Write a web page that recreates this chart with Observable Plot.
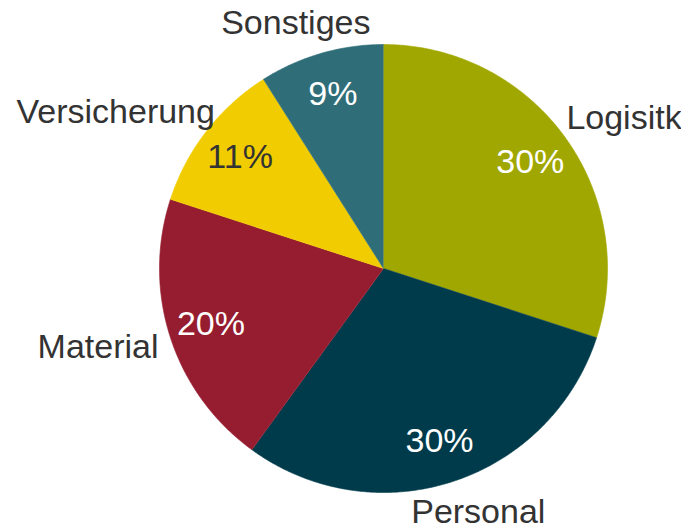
<!DOCTYPE html>
<html>
<head>
<meta charset="utf-8">
<script src="https://cdn.jsdelivr.net/npm/d3@7"></script>
<script src="https://cdn.jsdelivr.net/npm/@observablehq/plot@0.6"></script>
<style>
  html, body { margin: 0; padding: 0; background: #ffffff; }
  #chart svg { display: block; }
</style>
</head>
<body>
<div id="chart"></div>
<script>
// Data
const categories = ["Logisitk", "Personal", "Material", "Versicherung", "Sonstiges"];
const shares = [30, 30, 20, 11, 9];
const colors = ["#a0a700", "#003b4b", "#961c2f", "#f1cc00", "#2f6e79"];

// Layout
const W = 681, H = 531;
const CX = 383, CY = 268;      // pie centre in pixels
const R = 224;                  // pie radius in pixels
const FONT = "Liberation Sans, Arial, sans-serif";
const FS = 34;

const pie = d3.pie().sort(null).value(d => d.value).startAngle(0).endAngle(2 * Math.PI);
const data = categories.map((name, i) => ({name, value: shares[i]}));
const arcs = pie(data);

// Slice polygons (y up)
const poly = [];
for (const a of arcs) {
  poly.push({name: a.data.name, x: 0, y: 0});
  const n = Math.max(2, Math.ceil((a.endAngle - a.startAngle) / (Math.PI / 360)));
  for (let k = 0; k <= n; k++) {
    const t = a.startAngle + (a.endAngle - a.startAngle) * k / n;
    poly.push({name: a.data.name, x: R * Math.sin(t), y: R * Math.cos(t)});
  }
}

// Text measurement
const ctx = document.createElement("canvas").getContext("2d");
ctx.font = `${FS}px ${FONT}`;

const inner = arcs.map(a => {
  const m = (a.startAngle + a.endAngle) / 2;
  const col = colors[categories.indexOf(a.data.name)];
  return {
    label: `${a.data.value}%`,
    x: 0.81 * R * Math.sin(m),
    y: 0.81 * R * Math.cos(m),
    fill: d3.lab(col).l > 70 ? "#333333" : "#ffffff"
  };
});

const RA = 1.07 * R, LH = 32;
const outer = arcs.map(a => {
  const m = (a.startAngle + a.endAngle) / 2;
  const w = ctx.measureText(a.data.name).width;
  return {
    label: a.data.name,
    x: (RA + w / 2) * Math.sin(m),
    y: RA * Math.cos(m) + (LH / 2) * Math.cos(m)
  };
});

const chart = Plot.plot({
  width: W,
  height: H,
  margin: 0,
  x: {domain: [-CX, W - CX], axis: null},
  y: {domain: [CY - H, CY], axis: null},
  color: {domain: categories, range: colors},
  style: {background: "#ffffff", fontFamily: FONT},
  marks: [
    Plot.line(poly, {x: "x", y: "y", z: "name", fill: "name", stroke: "name", strokeWidth: 0.6, curve: "linear"}),
    Plot.text(inner, {x: "x", y: "y", text: "label", fill: "fill", fontSize: FS, textAnchor: "middle", lineAnchor: "middle"}),
    Plot.text(outer, {x: "x", y: "y", text: "label", fill: "#333333", fontSize: FS, textAnchor: "middle", lineAnchor: "middle"})
  ]
});

document.getElementById("chart").appendChild(chart);
</script>
</body>
</html>
